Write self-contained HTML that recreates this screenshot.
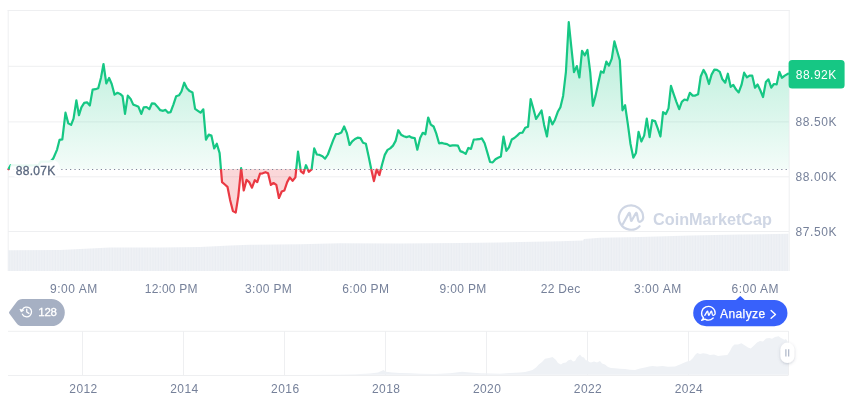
<!DOCTYPE html>
<html><head><meta charset="utf-8"><title>Chart</title>
<style>
html,body{margin:0;padding:0;background:#fff;}
body{width:860px;height:401px;overflow:hidden;font-family:"Liberation Sans",Arial,sans-serif;}
svg{display:block}
text{font-family:"Liberation Sans",Arial,sans-serif;}
</style></head><body>
<svg width="860" height="401" viewBox="0 0 860 401">
<defs>
<linearGradient id="gg" gradientUnits="userSpaceOnUse" x1="0" y1="20" x2="0" y2="169.0">
<stop offset="0" stop-color="#16c784" stop-opacity="0.34"/>
<stop offset="1" stop-color="#16c784" stop-opacity="0.05"/>
</linearGradient>
<linearGradient id="rg" gradientUnits="userSpaceOnUse" x1="0" y1="169.0" x2="0" y2="215">
<stop offset="0" stop-color="#ea3943" stop-opacity="0.2"/>
<stop offset="1" stop-color="#ea3943" stop-opacity="0.22"/>
</linearGradient>
<pattern id="vp" patternUnits="userSpaceOnUse" x="8" y="0" width="2.712" height="40"><rect width="2.712" height="40" fill="#f5f7f9"/><rect x="0.3" width="2.0" height="40" fill="#eaedf2"/></pattern>
<filter id="sh" x="-50%" y="-50%" width="200%" height="200%"><feDropShadow dx="0" dy="1" stdDeviation="1.5" flood-color="#58667e" flood-opacity="0.3"/></filter>
</defs>
<rect width="860" height="401" fill="#fff"/>
<!-- grid -->
<g stroke="#eeeff1" stroke-width="1" fill="none">
<path d="M7.7 10.5H789.7"/>
<path d="M8.2 10V271"/>
<path d="M789.2 10V271"/>
<path d="M8 66.3H789"/><path d="M8 121.9H789"/><path d="M8 176.8H789"/><path d="M8 231.5H789"/>
</g>
<!-- volume -->
<polygon points="8,271 8,250.2 60,250 75,249.2 110,247.6 160,247.4 200,247 230,245.6 250,244.8 300,244.2 340,243.2 400,243.6 460,243 500,242.4 560,241.3 583,240.6 584,239 600,237.8 640,237 690,235.6 740,234.6 788.5,233.8 788.5,271" fill="url(#vp)"/>
<!-- watermark -->
<g fill="none" stroke="#cfd6e4" stroke-width="2.2" stroke-linecap="round" stroke-linejoin="round">
<path d="M622.9 224L628.6 213.6Q629.6 212 630 214L630.9 220Q631.2 221.8 632 220L635.6 213.6Q636.6 212 637 214L638 219.6Q638.6 222.6 640.6 221.6Q643.2 220.2 643.2 217.5A12.2 12.2 0 1 0 639.6 226.2"/>
</g>
<text x="653" y="224.6" font-size="16" font-weight="700" fill="#cfd6e4" textLength="119" lengthAdjust="spacingAndGlyphs">CoinMarketCap</text>
<!-- area + line -->
<g fill="url(#gg)"><polygon points="8.54,169.0 8.54,169.0 10.7,165 24,165.6 38.4,165.1 40.7,161.6 48.8,161.6 51.7,160.5 53.5,158 57.08,149.6 59.51,139.9 62.32,139.3 65.5,112.7 68.3,123.4 71.11,124.9 73.54,118.7 76.35,100.3 78.97,115.2 81.4,107.4 84.21,102.9 87.02,102.3 89.82,105.5 92.63,89.6 95.44,89.2 98.25,88.3 101.05,77.4 103.49,64.0 106.29,83.4 109.1,78.0 111.72,84.0 114.53,94.6 117.52,92.8 120.14,93.9 122.57,96.1 125.01,113.9 127.81,95.6 130.62,98.9 133.24,104.6 135.67,105.5 138.48,106.8 141.29,113.9 143.72,107.4 146.53,107.0 149.33,109.2 151.95,103.3 154.57,103.6 157.19,106.4 160.29,110.2 163.1,110.8 165.53,109.9 168.15,112.7 170.58,112.1 173.39,104.6 176.2,96.2 179.01,95.3 181.44,91.5 184.25,82.7 186.87,88.3 189.67,91.1 192.48,92.5 195.1,108.9 197.91,110.8 200.53,112.7 203.33,109.3 205.95,139.6 208.76,134.6 211.38,135.5 214.19,148.4 216.81,143.7 219.61,153.1 220.95,169.0 220.95,169.0"/><polygon points="241.04,169.0 241.04,169.0 241.13,168.1 241.24,169.0 241.24,169.0"/><polygon points="296.25,169.0 296.25,169.0 298.02,151.6 300.49,169.0 300.49,169.0"/><polygon points="304.8,169.0 304.8,169.0 305.99,165.2 307.61,169.0 307.61,169.0"/><polygon points="311.66,169.0 311.66,169.0 314.22,148.4 316.84,154.5 319.65,154.9 322.46,156.2 325.08,158.7 327.88,154.5 330.5,147.4 333.31,139.9 335.93,134.0 338.74,133.8 341.36,132.5 344.16,126.5 346.78,132.8 349.59,145.0 352.21,141.4 355.02,139.0 357.64,137.7 360.44,138.1 363.06,142.7 365.87,143.7 368.49,155.8 371.2,169.0 371.2,169.0"/><polygon points="380.93,169.0 380.93,169.0 382.15,164.3 384.77,154.9 387.58,149.9 390.2,148.4 393.01,145.6 395.63,140.9 398.25,130.2 401.05,134.7 403.86,136.2 406.48,137.1 409.29,136.2 411.91,137.7 414.71,138.1 417.33,149.7 420.14,138.1 422.76,132.8 425.38,134.3 428.19,117.5 430.81,124.6 433.61,126.5 436.23,133.4 439.04,143.3 441.66,142.9 444.47,143.7 447.09,144.1 449.89,145.9 452.51,145.4 455.32,145.4 457.94,145.6 460.29,151.1 462.91,152.1 465.72,153.9 468.34,148.0 470.96,148.9 473.77,139.5 476.39,139.4 479.19,139.2 481.81,138.4 484.62,143.3 487.24,152.1 490.05,162.0 492.67,162.4 495.47,159.2 498.09,157.7 500.9,156.4 503.52,136.5 506.33,150.8 508.95,147.4 511.75,139.5 514.37,138.0 517.18,135.6 519.8,133.0 522.61,132.6 525.23,127.7 528.04,126.8 530.65,99.1 533.46,109.0 536.08,119.0 538.89,114.6 541.51,110.5 544.13,124.9 546.94,136.5 549.56,117.1 552.36,124.4 554.98,119.7 557.79,111.8 560.41,107.2 563.12,95.9 565.93,71.8 568.74,22.2 571.36,47.4 573.98,72.1 576.78,66.1 579.4,77.4 582.02,50.8 584.83,55.3 587.45,49.9 590.26,72.7 592.88,105.8 595.5,95.9 598.3,83.0 600.92,71.4 603.54,72.7 606.35,61.5 608.97,65.6 611.78,58.7 614.4,41.4 617.2,51.2 619.82,60.2 622.46,110.3 625.08,105.2 627.88,124.3 630.5,144.0 633.31,157.6 635.93,153.0 638.55,131.8 641.36,141.5 644.16,135.6 646.78,118.7 649.59,137.1 652.21,120.2 655.02,121.0 657.64,128.1 660.44,136.5 663.06,112.2 665.87,114.0 668.49,108.4 670.96,85.8 673.77,94.3 676.39,101.8 679.19,109.2 681.81,101.8 684.43,99.5 687.24,100.3 689.86,92.8 692.67,95.6 695.29,95.6 698.09,94.3 700.71,76.5 703.52,69.9 706.14,74.6 708.95,84.0 711.57,74.6 714.37,69.6 716.99,69.9 719.8,71.8 722.42,79.3 725.23,82.7 727.85,73.7 730.65,86.8 733.27,84.9 736.08,89.6 738.7,92.4 741.51,84.9 744.13,72.7 746.94,77.4 749.56,75.6 752.18,75.6 754.98,87.7 757.6,84.5 760.41,90.5 763.03,97.1 765.84,82.1 768.46,79.3 771.26,87.7 773.88,84.0 776.69,84.4 779.31,71.8 781.93,77.8 784.74,75.6 788.85,73.3 788.85,169.0"/></g>
<g fill="url(#rg)"><polygon points="8,169.0 8,170 8.54,169.0 8.54,169.0"/><polygon points="220.95,169.0 220.95,169.0 222.05,182.1 224.85,184.5 227.47,186.8 230.09,199.9 232.9,211.1 235.71,212.6 238.33,196.1 241.04,169.0 241.04,169.0"/><polygon points="241.24,169.0 241.24,169.0 243.75,190.5 246.56,179.9 249.18,182.1 251.99,187.7 254.8,180.2 257.23,182.1 260.04,173.7 262.65,173.3 265.46,172.2 268.08,173.3 270.89,184.9 273.51,183.0 276.32,184.9 278.94,198.0 281.74,191.5 284.36,190.5 287.17,182.1 289.79,177.4 292.6,180.8 295.4,177.4 296.25,169.0 296.25,169.0"/><polygon points="300.49,169.0 300.49,169.0 300.83,171.4 303.45,173.3 304.8,169.0 304.8,169.0"/><polygon points="307.61,169.0 307.61,169.0 308.8,171.8 311.6,169.5 311.66,169.0 311.66,169.0"/><polygon points="371.2,169.0 371.2,169.0 371.3,169.5 373.92,181.1 376.73,169.5 379.35,175.1 380.93,169.0 380.93,169.0"/></g>
<g fill="none" stroke="#ea3943" stroke-width="2.2" stroke-linejoin="round" stroke-linecap="butt"><polyline points="8,170 8.54,169.0"/><polyline points="220.95,169.0 222.05,182.1 224.85,184.5 227.47,186.8 230.09,199.9 232.9,211.1 235.71,212.6 238.33,196.1 241.04,169.0"/><polyline points="241.24,169.0 243.75,190.5 246.56,179.9 249.18,182.1 251.99,187.7 254.8,180.2 257.23,182.1 260.04,173.7 262.65,173.3 265.46,172.2 268.08,173.3 270.89,184.9 273.51,183.0 276.32,184.9 278.94,198.0 281.74,191.5 284.36,190.5 287.17,182.1 289.79,177.4 292.6,180.8 295.4,177.4 296.25,169.0"/><polyline points="300.49,169.0 300.83,171.4 303.45,173.3 304.8,169.0"/><polyline points="307.61,169.0 308.8,171.8 311.6,169.5 311.66,169.0"/><polyline points="371.2,169.0 371.3,169.5 373.92,181.1 376.73,169.5 379.35,175.1 380.93,169.0"/></g>
<g fill="none" stroke="#16c784" stroke-width="2.2" stroke-linejoin="round" stroke-linecap="butt"><polyline points="8.54,169.0 10.7,165 24,165.6 38.4,165.1 40.7,161.6 48.8,161.6 51.7,160.5 53.5,158 57.08,149.6 59.51,139.9 62.32,139.3 65.5,112.7 68.3,123.4 71.11,124.9 73.54,118.7 76.35,100.3 78.97,115.2 81.4,107.4 84.21,102.9 87.02,102.3 89.82,105.5 92.63,89.6 95.44,89.2 98.25,88.3 101.05,77.4 103.49,64.0 106.29,83.4 109.1,78.0 111.72,84.0 114.53,94.6 117.52,92.8 120.14,93.9 122.57,96.1 125.01,113.9 127.81,95.6 130.62,98.9 133.24,104.6 135.67,105.5 138.48,106.8 141.29,113.9 143.72,107.4 146.53,107.0 149.33,109.2 151.95,103.3 154.57,103.6 157.19,106.4 160.29,110.2 163.1,110.8 165.53,109.9 168.15,112.7 170.58,112.1 173.39,104.6 176.2,96.2 179.01,95.3 181.44,91.5 184.25,82.7 186.87,88.3 189.67,91.1 192.48,92.5 195.1,108.9 197.91,110.8 200.53,112.7 203.33,109.3 205.95,139.6 208.76,134.6 211.38,135.5 214.19,148.4 216.81,143.7 219.61,153.1 220.95,169.0"/><polyline points="241.04,169.0 241.13,168.1 241.24,169.0"/><polyline points="296.25,169.0 298.02,151.6 300.49,169.0"/><polyline points="304.8,169.0 305.99,165.2 307.61,169.0"/><polyline points="311.66,169.0 314.22,148.4 316.84,154.5 319.65,154.9 322.46,156.2 325.08,158.7 327.88,154.5 330.5,147.4 333.31,139.9 335.93,134.0 338.74,133.8 341.36,132.5 344.16,126.5 346.78,132.8 349.59,145.0 352.21,141.4 355.02,139.0 357.64,137.7 360.44,138.1 363.06,142.7 365.87,143.7 368.49,155.8 371.2,169.0"/><polyline points="380.93,169.0 382.15,164.3 384.77,154.9 387.58,149.9 390.2,148.4 393.01,145.6 395.63,140.9 398.25,130.2 401.05,134.7 403.86,136.2 406.48,137.1 409.29,136.2 411.91,137.7 414.71,138.1 417.33,149.7 420.14,138.1 422.76,132.8 425.38,134.3 428.19,117.5 430.81,124.6 433.61,126.5 436.23,133.4 439.04,143.3 441.66,142.9 444.47,143.7 447.09,144.1 449.89,145.9 452.51,145.4 455.32,145.4 457.94,145.6 460.29,151.1 462.91,152.1 465.72,153.9 468.34,148.0 470.96,148.9 473.77,139.5 476.39,139.4 479.19,139.2 481.81,138.4 484.62,143.3 487.24,152.1 490.05,162.0 492.67,162.4 495.47,159.2 498.09,157.7 500.9,156.4 503.52,136.5 506.33,150.8 508.95,147.4 511.75,139.5 514.37,138.0 517.18,135.6 519.8,133.0 522.61,132.6 525.23,127.7 528.04,126.8 530.65,99.1 533.46,109.0 536.08,119.0 538.89,114.6 541.51,110.5 544.13,124.9 546.94,136.5 549.56,117.1 552.36,124.4 554.98,119.7 557.79,111.8 560.41,107.2 563.12,95.9 565.93,71.8 568.74,22.2 571.36,47.4 573.98,72.1 576.78,66.1 579.4,77.4 582.02,50.8 584.83,55.3 587.45,49.9 590.26,72.7 592.88,105.8 595.5,95.9 598.3,83.0 600.92,71.4 603.54,72.7 606.35,61.5 608.97,65.6 611.78,58.7 614.4,41.4 617.2,51.2 619.82,60.2 622.46,110.3 625.08,105.2 627.88,124.3 630.5,144.0 633.31,157.6 635.93,153.0 638.55,131.8 641.36,141.5 644.16,135.6 646.78,118.7 649.59,137.1 652.21,120.2 655.02,121.0 657.64,128.1 660.44,136.5 663.06,112.2 665.87,114.0 668.49,108.4 670.96,85.8 673.77,94.3 676.39,101.8 679.19,109.2 681.81,101.8 684.43,99.5 687.24,100.3 689.86,92.8 692.67,95.6 695.29,95.6 698.09,94.3 700.71,76.5 703.52,69.9 706.14,74.6 708.95,84.0 711.57,74.6 714.37,69.6 716.99,69.9 719.8,71.8 722.42,79.3 725.23,82.7 727.85,73.7 730.65,86.8 733.27,84.9 736.08,89.6 738.7,92.4 741.51,84.9 744.13,72.7 746.94,77.4 749.56,75.6 752.18,75.6 754.98,87.7 757.6,84.5 760.41,90.5 763.03,97.1 765.84,82.1 768.46,79.3 771.26,87.7 773.88,84.0 776.69,84.4 779.31,71.8 781.93,77.8 784.74,75.6 788.85,73.3"/></g>
<!-- base dotted line -->
<path d="M8.6 169.5H789" stroke="#7b8497" stroke-width="1" stroke-dasharray="1.2 3.19" fill="none"/>
<!-- base label -->
<rect x="10" y="160" width="50" height="17.5" rx="8" fill="#fff" fill-opacity="0.9"/>
<text x="15.7" y="175.2" stroke="#58667e" stroke-width="0.3" font-size="12" fill="#58667e" textLength="39.6" lengthAdjust="spacing">88.07K</text>
<!-- y labels -->
<g font-size="12" fill="#76819a">
<text x="795.6" y="125.7" textLength="40.9" lengthAdjust="spacing">88.50K</text>
<text x="795.6" y="180.7" textLength="40.9" lengthAdjust="spacing">88.00K</text>
<text x="795.6" y="235.7" textLength="40.9" lengthAdjust="spacing">87.50K</text>
</g>
<!-- current price badge -->
<rect x="788.6" y="60" width="56" height="28.4" rx="3.5" fill="#16c784"/>
<text x="795.8" y="78.7" font-size="12" fill="#fff" textLength="40.4" lengthAdjust="spacing">88.92K</text>
<!-- x labels -->
<g font-size="12" fill="#76819a" text-anchor="middle">
<text x="73.6" y="292.8" textLength="47.4" lengthAdjust="spacing">9:00 AM</text>
<text x="171.1" y="292.8" textLength="52.6" lengthAdjust="spacing">12:00 PM</text>
<text x="268.4" y="292.8" textLength="46.6" lengthAdjust="spacing">3:00 PM</text>
<text x="365.6" y="292.8" textLength="46.6" lengthAdjust="spacing">6:00 PM</text>
<text x="462.9" y="292.8" textLength="46.6" lengthAdjust="spacing">9:00 PM</text>
<text x="560.5" y="292.8" textLength="39.5" lengthAdjust="spacing">22 Dec</text>
<text x="657.6" y="292.8" textLength="47.4" lengthAdjust="spacing">3:00 AM</text>
<text x="755" y="292.8" textLength="47" lengthAdjust="spacing">6:00 AM</text>
</g>
<!-- 128 badge -->
<path d="M9.3 311.8L16.4 302.3Q18.8 299.1 22.6 299.1H51.3A13.5 13.5 0 0 1 51.3 326.1H22.6Q18.8 326.1 16.4 322.9L9.3 313.4Q8.7 312.6 9.3 311.8Z" fill="#a6b0c3"/>
<g fill="none" stroke="#fff" stroke-width="1.3" stroke-linecap="round" stroke-linejoin="round">
<path d="M22.3 309.9A4.85 4.85 0 1 1 22.4 314.2"/>
<path d="M20.1 309.6L21.2 311.9L23.4 310.5Z" fill="#fff" stroke-width="0.8"/>
<path d="M26.75 309.2V312L28.9 313.4"/>
</g>
<text x="38.2" y="316.3" font-size="11.5" fill="#fff" stroke="#fff" stroke-width="0.3" textLength="18.8" lengthAdjust="spacing">128</text>
<!-- Analyze -->
<path d="M735.6 300.2L739.9 296.3Q740.3 295.9 740.7 296.3L745 300.2Z" fill="#3861fb"/>
<rect x="693.2" y="300" width="94.25" height="26.2" rx="13.1" fill="#3861fb"/>
<g fill="none" stroke="#fff" stroke-width="1.3" stroke-linecap="round" stroke-linejoin="round">
<path d="M704.8 315.4L707 311.6Q707.6 310.6 707.9 311.8L708.4 314.6Q708.7 315.8 709.3 314.8L710.9 311.6Q711.5 310.6 711.8 311.8L712.3 314.4Q712.7 315.8 713.8 315.2Q715.2 314.4 715.2 313.2A6.8 6.8 0 1 0 703.6 318L701.6 320.4L705 319.1A6.8 6.8 0 0 0 713.2 318"/>
<path d="M771.1 310.5L775.5 314.4L771.1 318.3" stroke-width="1.4"/>
</g>
<text x="720.1" y="317.6" font-size="12" font-weight="500" fill="#fff" textLength="45" lengthAdjust="spacing" stroke="#fff" stroke-width="0.25">Analyze</text>
<!-- mini chart -->
<g stroke="#eeeff1" stroke-width="1" fill="none">
<path d="M8 331.3H788.5"/><path d="M8 375.5H788.5"/>
<path d="M82.5 331V375"/><path d="M183.5 331V375"/><path d="M284.5 331V375"/><path d="M385.5 331V375"/><path d="M486.5 331V375"/><path d="M587.5 331V375"/><path d="M688.5 331V375"/><path d="M788.5 331V375"/>
</g>
<polygon points="8,374.8 300,374.8 340,374.6 355,374.3 370,373.6 378,372.6 383.5,370 386,371.8 392,372.6 400,373 410,373.3 420,373.8 435,374 450,373.2 462,371.8 470,372.4 480,373.2 490,373.4 500,373.7 510,373 520,372.6 525,372 529,371 532.5,370 536,367.5 538.75,364.5 542,362 545,358.75 549,358 552.5,357 556,360 558,363 561,364.5 563,363 566,362.5 568,360.5 571,359.5 573,361.5 575,361 577,357.5 580,354.5 582,357 584,357.5 586,360.5 587.5,360 589,362 591,362.5 594,361.5 597,362.5 600,361 602,363.5 605,364.5 608,367 611,368 615,368.2 620,368.75 625,369 630,369.8 635,370 640,368.5 645,367.5 649,366.6 652.5,366 657,366.4 662.5,366 668,366.8 675,366.6 680,364.5 683.3,363 687,361.5 690.2,360.7 693,358 695,355 697.2,353 700,354 703,353.2 706.5,353.7 710,355 714,354.6 718,356 722,355.5 727.4,354.9 730,351 732,347 734.4,344.4 738,344.6 741.4,343.3 745,345.5 748,347.6 750.7,348.4 754,345.5 757,342.5 760,340.9 763,341.5 766,338.6 769.3,338.1 772,338.8 775,337 778.6,336.3 781,338 784.4,339.8 786,339 787.9,342 788,374.8" fill="#eef1f5"/>
<g font-size="12" fill="#76819a" text-anchor="middle">
<text x="83.3" y="393" textLength="28" lengthAdjust="spacing">2012</text>
<text x="184.2" y="393" textLength="28" lengthAdjust="spacing">2014</text>
<text x="285.1" y="393" textLength="28" lengthAdjust="spacing">2016</text>
<text x="386" y="393" textLength="28" lengthAdjust="spacing">2018</text>
<text x="486.9" y="393" textLength="28" lengthAdjust="spacing">2020</text>
<text x="587.8" y="393" textLength="28" lengthAdjust="spacing">2022</text>
<text x="688.7" y="393" textLength="28" lengthAdjust="spacing">2024</text>
</g>
<!-- handle -->
<rect x="780.4" y="342.6" width="14" height="20.4" rx="7" fill="#fff" filter="url(#sh)"/>
<path d="M785.9 349.2V356.4M788.7 349.2V356.4" stroke="#a6b0c3" stroke-width="1.1" fill="none"/>
</svg>
</body></html>
